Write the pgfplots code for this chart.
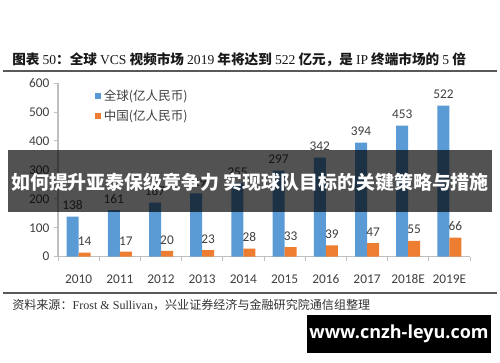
\documentclass[border=0pt]{standalone}
\usepackage{fontspec}
\setmainfont{Carlito}
\newfontfamily\cjk{Noto Sans CJK SC}
\newfontfamily\tnr{Liberation Serif}
\newfontfamily\urlfnt{Open Sans}
\usepackage{pgfplots}
\pgfplotsset{compat=1.18}
\definecolor{cblue}{HTML}{5B9BD5}
\definecolor{corange}{HTML}{ED7D31}
\definecolor{ctext}{HTML}{404040}
\definecolor{caxis}{HTML}{BFBFBF}
\begin{document}
\begin{tikzpicture}
\path[use as bounding box, fill=white] (0,0) rectangle (375pt,271.5pt);
\begin{axis}[
  at={(43.5pt,79pt)}, anchor=south west, scale only axis,
  width=309pt, height=130.25pt,
  /pgf/number format/assume math mode=true,
  ybar=0pt, bar width=9pt,
  xmin=-0.5, xmax=9.5, ymin=0, ymax=600,
  xtick={0,1,2,3,4,5,6,7,8,9},
  xticklabels={2010,2011,2012,2013,2014,2015,2016,2017,2018E,2019E},
  minor xtick={-0.5,0.5,1.5,2.5,3.5,4.5,5.5,6.5,7.5,8.5,9.5},
  ytick={0,100,200,300,400,500,600},
  axis x line*=bottom, axis y line*=left,
  axis line style={caxis, line width=0.8pt, -},
  tick align=outside, major tick length=3pt, minor tick length=3pt,
  major x tick style={draw=none},
  minor x tick style={caxis, line width=0.6pt},
  major y tick style={caxis, line width=0.6pt},
  tick label style={font=\fontsize{10}{12}\selectfont, text=ctext},
  xticklabel style={yshift=-7pt},
  nodes near coords,
  nodes near coords style={font=\fontsize{10}{12}\selectfont, text=ctext, yshift=1.5pt},
  legend style={at={(0.08,0.995)}, anchor=north west, draw=none, fill=none,
    font=\cjk\fontsize{9.4}{11}\selectfont, text=ctext, row sep=1.5pt,
    /tikz/every even column/.append style={column sep=2pt}},
  legend cell align=left,
  legend image code/.code={\fill[#1,draw=none] (0pt,-2.25pt) rectangle (4.5pt,2.25pt);},
]
\addplot[fill=cblue, draw=none] coordinates {(0,138) (1,161) (2,187) (3,219) (4,255) (5,297) (6,342) (7,394) (8,453) (9,522)};
\addplot[fill=corange, draw=none] coordinates {(0,14) (1,17) (2,20) (3,23) (4,28) (5,33) (6,39) (7,47) (8,55) (9,66)};
\legend{全球(亿人民币),中国(亿人民币)}
\end{axis}
\begin{scope}[shift={(0,271.5pt)}, x=0.75pt, y=-0.75pt]
  % title
  \node[anchor=west, inner sep=0pt, text=black!90] at (12,60)
    {\fontsize{10.2}{12}\selectfont\cjk\bfseries 图表 {\tnr\mdseries 50}：全球 {\tnr\mdseries VCS} 视频市场 {\tnr\mdseries 2019} 年将达到 {\tnr\mdseries 522} 亿元，是 {\tnr\mdseries IP} 终端市场的 {\tnr\mdseries 5} 倍};
  \draw[black!65, line width=1.4pt] (3,71) -- (497,71);
  \draw[black!65, line width=1.2pt] (3,293) -- (497,293);
  % source
  \node[anchor=west, inner sep=0pt, text=black!80] at (12,305)
    {\fontsize{9.05}{10}\selectfont\cjk 资料来源：{\tnr Frost \& Sullivan}，兴业证券经济与金融研究院通信组整理};
  % banner
  \fill[black, opacity=0.68] (8,150) rectangle (492,212);
  \node[text=white, inner sep=0pt] at (250,182)
    {\fontsize{14.2}{16}\selectfont\cjk\bfseries 如何提升亚泰保级竞争力 实现球队目标的关键策略与措施};
  % url box
  \fill[black] (307,315) rectangle (491,353);
  \node[text=white, inner sep=0pt] at (399,334)
    {\fontsize{13.5}{15}\selectfont\urlfnt\bfseries www.cnzh-leyu.com};
\end{scope}
\end{tikzpicture}
\end{document}
